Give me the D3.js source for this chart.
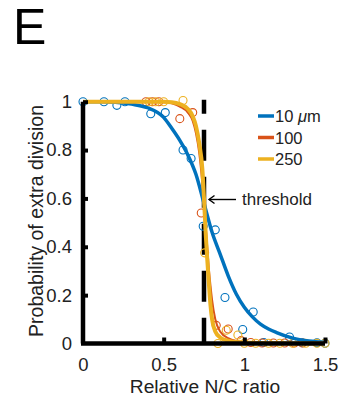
<!DOCTYPE html>
<html><head><meta charset="utf-8">
<script src="https://cdn.jsdelivr.net/npm/d3@7"></script>
<style>
html,body{margin:0;padding:0;background:#fff;}
text{font-family:"Liberation Sans",Arial,Helvetica,sans-serif;fill:#222;}
</style></head>
<body><svg id="c" width="340" height="398"></svg>
<script>
// ---- data ----
const panelLabel = "E";
const xTicks = [0, 0.5, 1, 1.5];
const xTickLabels = ["0", "0.5", "1", "1.5"];
const yTicks = [0, 0.2, 0.4, 0.6, 0.8, 1];
const yTickLabels = ["0", "0.2", "0.4", "0.6", "0.8", "1"];
const seriesNames = ["10 μm", "100", "250"];
const threshold = 0.75;

// observed points [ratio, probability]
const pts10 = [[0,1],[0.13,1],[0.21,0.985],[0.26,1],[0.42,0.95],[0.51,0.955],[0.62,0.80],[0.67,0.765],
  [0.745,0.485],[0.82,0.47],[0.88,0.19],[0.99,0.058],[1.055,0.13],[1.12,0.004],[1.28,0.027],[1.36,0.003],[1.45,0.003],[1.5,0.001]];
const pts100 = [[0.39,1],[0.43,1],[0.47,1],[0.6,0.93],[0.68,0.955],[0.733,0.54],[0.826,0.075],[0.9,0.06],
  [0.98,0.012],[1.04,0.004],[1.11,0.002],[1.18,0.002],[1.25,0.002],[1.31,0.002],[1.36,0.002]];
const pts250 = [[0.41,1],[0.45,1],[0.5,1],[0.62,1.005],[0.754,0.375],[0.836,0.0],[0.888,0.055],[0.96,0.035],
  [1.0,0.001],[1.07,0.001],[1.15,0.001],[1.22,0.001],[1.3,0.001],[1.38,0.001],[1.45,0.001],[1.5,0.001]];

// fitted curves [ratio, probability]
const fit10 = [[0,1],[0.1,1],[0.2,0.998],[0.3,0.99],[0.4,0.975],[0.5,0.935],[0.55,0.89],[0.6,0.84],[0.65,0.78],
  [0.7,0.70],[0.75,0.58],[0.8,0.46],[0.85,0.37],[0.9,0.28],[0.95,0.205],[1.0,0.15],[1.05,0.11],[1.1,0.08],
  [1.15,0.06],[1.2,0.045],[1.3,0.022],[1.4,0.01],[1.5,0.004]];
const fit100 = [[0,1],[0.5,0.998],[0.55,0.993],[0.6,0.98],[0.65,0.955],[0.68,0.92],[0.7,0.87],[0.72,0.79],
  [0.74,0.66],[0.75,0.58],[0.76,0.49],[0.77,0.40],[0.78,0.31],[0.79,0.24],[0.8,0.18],[0.82,0.10],[0.85,0.05],
  [0.9,0.022],[1.0,0.006],[1.2,0.001],[1.5,0]];
const fit250 = [[0,1],[0.5,1],[0.55,0.998],[0.6,0.99],[0.65,0.97],[0.68,0.94],[0.7,0.9],[0.72,0.83],[0.74,0.72],
  [0.75,0.6],[0.76,0.46],[0.77,0.35],[0.78,0.25],[0.79,0.16],[0.8,0.1],[0.82,0.05],[0.85,0.025],[0.9,0.012],
  [1.0,0.004],[1.2,0.001],[1.5,0]];

const colors = ["#0072BD", "#D95319", "#EDB120"];

// ---- drawing ----
const svg = d3.select("#c");
svg.append("rect").attr("width",340).attr("height",398).attr("fill","#fff");

const x = d3.scaleLinear().domain([0,1.5]).range([83,325]);
const y = d3.scaleLinear().domain([0,1]).range([343.5,101.7]);

svg.append("text").attr("x",13).attr("y",44).attr("font-size",50).style("fill","#000").text(panelLabel);

// threshold dashed line
svg.append("line").attr("x1",x(threshold)).attr("x2",x(threshold))
  .attr("y1",y(1)-2).attr("y2",y(0))
  .attr("stroke","#000").attr("stroke-width",4.5)
  .attr("stroke-dasharray","31,16").attr("stroke-dashoffset",17);

const line = d3.line().x(d=>x(d[0])).y(d=>y(d[1])).curve(d3.curveMonotoneX);
const fits = [fit10, fit100, fit250];
const widths = [3.5, 2, 4];
const ptsAll = [pts10, pts100, pts250];

ptsAll.forEach((pts,i)=>{
  svg.append("g").selectAll("circle").data(pts).join("circle")
    .attr("cx",d=>x(d[0])).attr("cy",d=>y(d[1])).attr("r",4)
    .attr("fill","none").attr("stroke",colors[i]).attr("stroke-width",1.1);
});
fits.forEach((f,i)=>{
  svg.append("path").attr("d",line(f)).attr("fill","none")
    .attr("stroke",colors[i]).attr("stroke-width",widths[i]).attr("stroke-linejoin","round");
});

// axes
const xAxis = d3.axisBottom(x).tickValues(xTicks).tickFormat((d,i)=>xTickLabels[i]).tickSize(-6).tickPadding(14);
const yAxis = d3.axisLeft(y).tickValues(yTicks).tickFormat((d,i)=>yTickLabels[i]).tickSize(-5).tickPadding(11);
const gx = svg.append("g").attr("transform","translate(0,343.5)").call(xAxis);
const gy = svg.append("g").attr("transform","translate(83,0)").call(yAxis);
[gx,gy].forEach(g=>{
  g.select(".domain").attr("stroke","#000").attr("stroke-width",4.5);
  g.selectAll(".tick line").attr("stroke","#000").attr("stroke-width",4);
  g.selectAll(".tick text").attr("font-size",18.5).style("fill","#222").attr("font-family","Liberation Sans, Arial, sans-serif");
});
gx.select(".domain").attr("d","M81,0H325");
gy.select(".domain").attr("d","M0,343.5V101.7");
gx.selectAll(".tick line").filter(d=>d===0).remove();
gy.selectAll(".tick line").filter(d=>d===0).remove();

// axis titles
svg.append("text").attr("x",205).attr("y",392.5).attr("text-anchor","middle").attr("font-size",19.2).text("Relative N/C ratio");
svg.append("text").attr("transform","translate(43,221) rotate(-90)").attr("text-anchor","middle").attr("font-size",19.5).text("Probability of extra division");

// legend
const lg = svg.append("g");
seriesNames.forEach((n,i)=>{
  const yy = 116 + i*21.5;
  lg.append("line").attr("x1",258).attr("x2",274).attr("y1",yy).attr("y2",yy).attr("stroke",colors[i]).attr("stroke-width",3.5);
  const t = lg.append("text").attr("x",275).attr("y",yy+6).attr("font-size",16.5);
  if (i===0){ t.append("tspan").text("10 "); t.append("tspan").attr("font-style","italic").text("μ"); t.append("tspan").text("m"); }
  else t.text(n);
});

// threshold annotation
svg.append("line").attr("x1",236).attr("x2",209).attr("y1",199.5).attr("y2",199.5)
  .attr("stroke","#000").attr("stroke-width",1.4);
svg.append("path").attr("d","M214.5,195.5 L209,199.5 L214.5,203.5").attr("fill","none").attr("stroke","#000").attr("stroke-width",1.4);
svg.append("text").attr("x",242).attr("y",205).attr("font-size",17).text("threshold");
</script></body></html>
